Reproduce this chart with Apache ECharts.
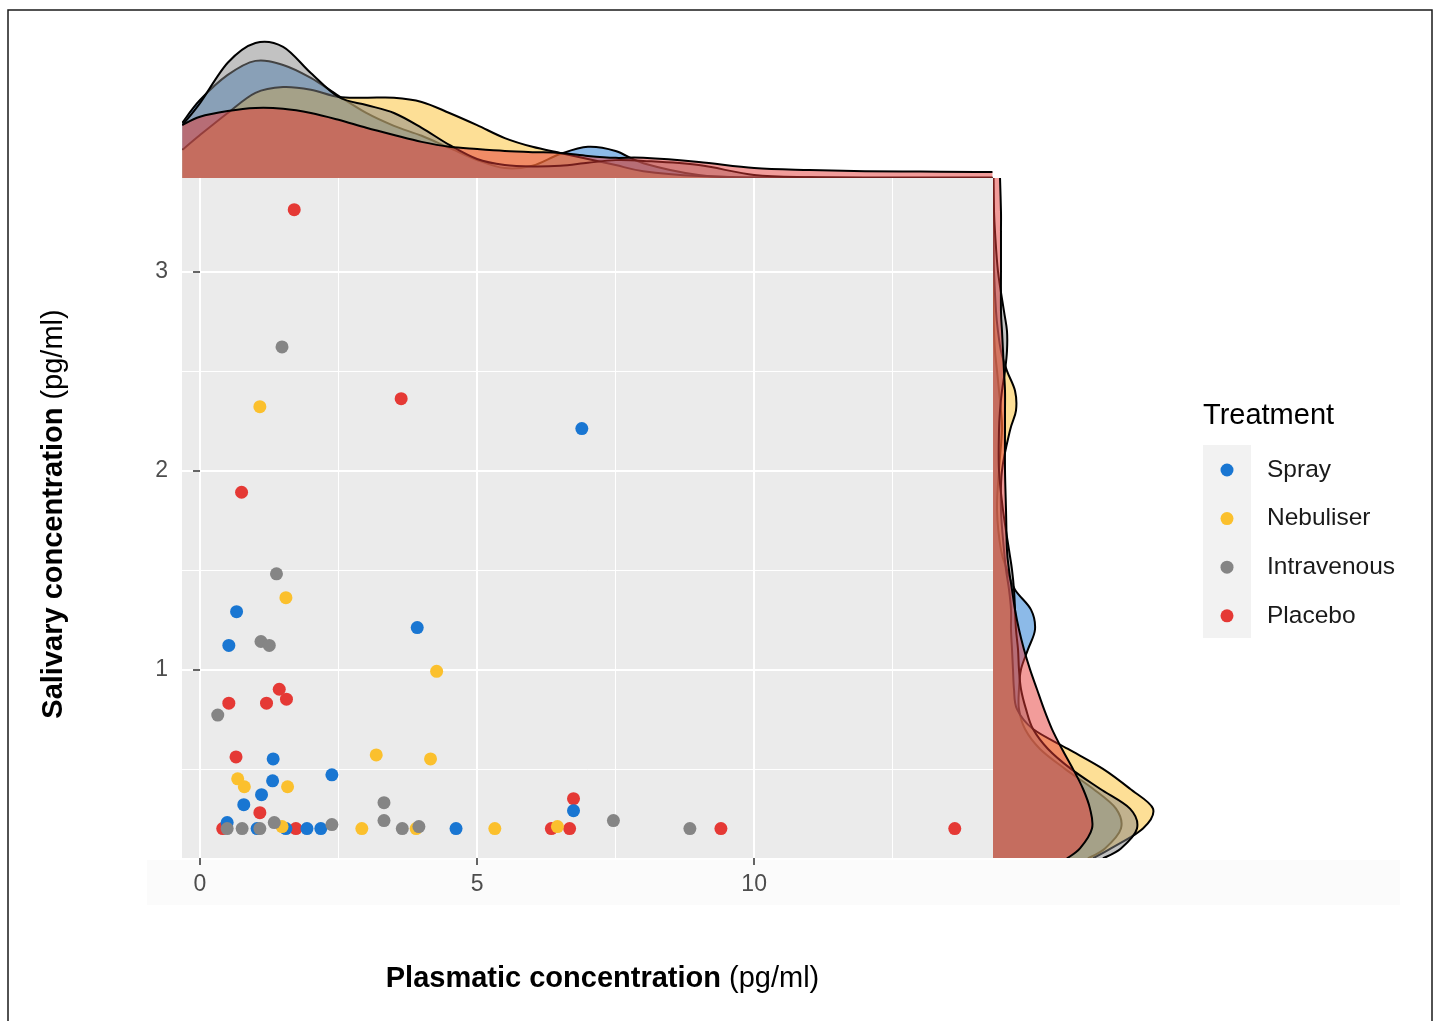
<!DOCTYPE html>
<html>
<head>
<meta charset="utf-8">
<script src="https://cdn.jsdelivr.net/npm/echarts@6/dist/echarts.min.js"></script>
<style>
html,body{margin:0;padding:0;background:#ffffff;}
#chart{width:1436px;height:1021px;}
</style>
</head>
<body>
<div id="chart"></div>
<script>
// ---------------- data ----------------
const groupNames = ['Spray', 'Nebuliser', 'Intravenous', 'Placebo'];

// scatter points [plasmatic, salivary]
const sprayPoints = [[6.89,2.21],[0.66,1.29],[3.92,1.21],[0.52,1.12],[1.32,0.55],[2.38,0.47],[1.31,0.44],[1.11,0.37],[0.79,0.32],[6.74,0.29],[0.49,0.23],[1.03,0.20],[1.55,0.20],[1.93,0.20],[2.18,0.20],[4.62,0.20]];
const nebuliserPoints = [[1.08,2.32],[1.55,1.36],[4.27,0.99],[3.18,0.57],[4.16,0.55],[0.68,0.45],[0.80,0.41],[1.58,0.41],[1.48,0.21],[2.92,0.20],[3.90,0.20],[5.32,0.20],[6.45,0.21]];
const intravenousPoints = [[1.48,2.62],[1.38,1.48],[1.10,1.14],[1.25,1.12],[0.32,0.77],[3.32,0.33],[3.32,0.24],[7.46,0.24],[1.34,0.23],[2.38,0.22],[0.49,0.20],[0.76,0.20],[1.08,0.20],[3.65,0.20],[3.95,0.21],[8.84,0.20]];
const placeboPoints = [[1.70,3.31],[3.63,2.36],[0.75,1.89],[1.43,0.90],[1.56,0.85],[0.52,0.83],[1.20,0.83],[0.65,0.56],[1.08,0.28],[6.74,0.35],[0.41,0.20],[1.73,0.20],[6.34,0.20],[6.67,0.20],[9.40,0.20],[13.62,0.20]];

// top marginal densities (plasmatic concentration)
const topGridX = [-0.32,0,0.5,1,1.5,2,2.5,3,3.5,4,4.5,5,5.5,6,6.5,7,7.5,8,9,10,11,12,13,14,14.3];
const topSpray       = [0.145,0.205,0.271,0.308,0.297,0.263,0.216,0.171,0.137,0.111,0.079,0.047,0.026,0.032,0.063,0.082,0.071,0.039,0.008,0.001,0.001,0,0,0,0];
const topNebuliser   = [0.074,0.113,0.171,0.224,0.239,0.232,0.213,0.211,0.211,0.200,0.171,0.139,0.105,0.082,0.066,0.050,0.034,0.018,0.005,0.001,0.001,0,0,0,0];
const topIntravenous = [0.139,0.197,0.303,0.355,0.345,0.276,0.213,0.192,0.171,0.132,0.087,0.050,0.034,0.030,0.032,0.040,0.047,0.045,0.034,0.008,0.002,0.001,0.001,0.001,0.001];
const topPlacebo     = [0.139,0.161,0.176,0.184,0.182,0.171,0.153,0.132,0.113,0.095,0.082,0.076,0.071,0.068,0.066,0.058,0.053,0.053,0.042,0.026,0.021,0.018,0.017,0.016,0.016];

// right marginal densities (salivary concentration)
const rightGridY = [0.05,0.1,0.2,0.3,0.4,0.5,0.6,0.7,0.8,0.9,1.0,1.1,1.2,1.3,1.4,1.5,1.6,1.8,2.0,2.2,2.3,2.4,2.5,2.6,2.7,2.8,3.0,3.2,3.3,3.47];
const rightSpray       = [1.583,1.867,2.133,2.050,1.667,1.200,0.783,0.533,0.433,0.433,0.467,0.583,0.700,0.633,0.367,0.233,0.133,0.067,0.100,0.150,0.133,0.100,0.067,0.033,0.017,0.008,0.003,0.002,0.002,0.002];
const rightNebuliser   = [1.667,1.967,2.500,2.667,2.283,1.833,1.250,0.667,0.400,0.350,0.333,0.317,0.300,0.300,0.267,0.217,0.183,0.133,0.150,0.283,0.383,0.367,0.233,0.133,0.083,0.050,0.017,0.008,0.005,0.003];
const rightIntravenous = [1.833,2.133,2.400,2.283,1.783,1.300,0.917,0.667,0.550,0.467,0.433,0.417,0.383,0.367,0.350,0.317,0.267,0.167,0.100,0.100,0.117,0.150,0.200,0.233,0.233,0.183,0.083,0.033,0.017,0.007];
const rightPlacebo     = [1.233,1.450,1.650,1.617,1.500,1.333,1.150,0.983,0.850,0.733,0.617,0.517,0.433,0.367,0.317,0.267,0.233,0.217,0.200,0.200,0.200,0.200,0.183,0.167,0.150,0.133,0.133,0.133,0.133,0.117];

// tick labels
const xMajorTicks = [0, 5, 10];
const xMinorTicks = [2.5, 7.5, 12.5];
const yMajorTicks = [1, 2, 3];
const yMinorTicks = [0.5, 1.5, 2.5];

// ---------------- style ----------------
const palette = { Spray: '#1976D2', Nebuliser: '#FBC02D', Intravenous: '#858585', Placebo: '#E53935' };
const FONT = '"Liberation Sans", Arial, Helvetica, sans-serif';
const X_MIN = -0.325, X_MAX = 14.31, Y_MIN = 0.052, Y_MAX = 3.469;

const scatterSets = { Spray: sprayPoints, Nebuliser: nebuliserPoints, Intravenous: intravenousPoints, Placebo: placeboPoints };
const topSets = { Spray: topSpray, Nebuliser: topNebuliser, Intravenous: topIntravenous, Placebo: topPlacebo };
const rightSets = { Spray: rightSpray, Nebuliser: rightNebuliser, Intravenous: rightIntravenous, Placebo: rightPlacebo };

function smoothPath(p) {
  let d = 'M' + p[0][0] + ',' + p[0][1];
  for (let i = 0; i < p.length - 1; i++) {
    const p0 = p[i - 1] || p[i], p1 = p[i], p2 = p[i + 1], p3 = p[i + 2] || p[i + 1];
    const c1x = p1[0] + (p2[0] - p0[0]) / 6, c1y = p1[1] + (p2[1] - p0[1]) / 6;
    const c2x = p2[0] - (p3[0] - p1[0]) / 6, c2y = p2[1] - (p3[1] - p1[1]) / 6;
    d += ' C' + c1x + ',' + c1y + ' ' + c2x + ',' + c2y + ' ' + p2[0] + ',' + p2[1];
  }
  return d;
}

function densityRenderer(orient, color) {
  return function (params, api) {
    if (params.dataIndexInside !== 0) return null;
    const n = params.dataInsideLength;
    const pts = [];
    for (let i = 0; i < n; i++) pts.push(api.coord([api.value(0, i), api.value(1, i)]));
    const curve = smoothPath(pts);
    let b0, b1;
    if (orient === 'top') {
      b0 = api.coord([api.value(0, 0), 0]);
      b1 = api.coord([api.value(0, n - 1), 0]);
    } else {
      b0 = api.coord([0, api.value(1, 0)]);
      b1 = api.coord([0, api.value(1, n - 1)]);
    }
    const fillPath = curve + ' L' + b1[0] + ',' + b1[1] + ' L' + b0[0] + ',' + b0[1] + ' Z';
    return {
      type: 'group',
      children: [
        { type: 'path', shape: { pathData: fillPath }, style: { fill: color, opacity: 0.5, stroke: null } },
        { type: 'path', shape: { pathData: curve }, style: { fill: null, stroke: '#000000', lineWidth: 2 } }
      ]
    };
  };
}

const series = [];
// scatter (drawing order chosen for overlaps)
['Placebo', 'Spray', 'Nebuliser', 'Intravenous'].forEach(function (g) {
  series.push({
    name: g, type: 'scatter', xAxisIndex: 0, yAxisIndex: 0,
    data: scatterSets[g], symbol: 'circle', symbolSize: 13,
    itemStyle: { color: palette[g], opacity: 1 },
    emphasis: { disabled: true }, z: 3
  });
});
// marginal densities
groupNames.forEach(function (g) {
  series.push({
    name: g, type: 'custom', xAxisIndex: 2, yAxisIndex: 2, clip: true,
    data: topGridX.map(function (x, i) { return [x, topSets[g][i]]; }),
    renderItem: densityRenderer('top', palette[g]), silent: true, z: 2
  });
});
groupNames.forEach(function (g) {
  series.push({
    name: g, type: 'custom', xAxisIndex: 3, yAxisIndex: 3, clip: true,
    data: rightGridY.map(function (y, i) { return [rightSets[g][i], y]; }),
    renderItem: densityRenderer('right', palette[g]), silent: true, z: 2
  });
});

const tickStyle = { show: true, length: 7, lineStyle: { color: '#333333', width: 1.5 } };
const labelStyle = { fontSize: 23, color: '#4D4D4D', fontFamily: FONT };

const option = {
  animation: false,
  backgroundColor: '#ffffff',
  textStyle: { fontFamily: FONT },
  grid: [
    { left: 182, top: 178, width: 811, height: 680, show: true, backgroundColor: '#EBEBEB', borderWidth: 0, outerBoundsMode: 'none', containLabel: false },
    { left: 182, top: 35, width: 811, height: 143, show: false, outerBoundsMode: 'none', containLabel: false },
    { left: 993, top: 178, width: 172, height: 680, show: false, outerBoundsMode: 'none', containLabel: false }
  ],
  xAxis: [
    {
      gridIndex: 0, type: 'value', min: X_MIN, max: X_MAX,
      axisLine: { show: false },
      axisTick: Object.assign({ customValues: xMajorTicks }, tickStyle),
      axisLabel: Object.assign({ customValues: xMajorTicks, margin: 15 }, labelStyle),
      splitLine: { show: true, lineStyle: { color: '#FFFFFF', width: 2 } },
      name: '{b|Plasmatic concentration} {n|(pg/ml)}',
      nameLocation: 'middle', nameGap: 106,
      nameTextStyle: {
        fontSize: 29, color: '#000000', fontFamily: FONT, padding: [0, 0, 0, 30],
        rich: {
          b: { fontSize: 29, fontWeight: 'bold', color: '#000000', fontFamily: FONT },
          n: { fontSize: 29, fontWeight: 'normal', color: '#000000', fontFamily: FONT }
        }
      }
    },
    {
      gridIndex: 0, type: 'value', min: X_MIN, max: X_MAX,
      axisLine: { show: false },
      axisTick: { show: false, customValues: xMinorTicks },
      axisLabel: { show: false, customValues: xMinorTicks },
      splitLine: { show: true, lineStyle: { color: '#FFFFFF', width: 1 } }
    },
    { gridIndex: 1, type: 'value', min: X_MIN, max: X_MAX, show: false },
    { gridIndex: 2, type: 'value', min: 0, max: 2.867, show: false }
  ],
  yAxis: [
    {
      gridIndex: 0, type: 'value', min: Y_MIN, max: Y_MAX,
      axisLine: { show: false },
      axisTick: Object.assign({ customValues: yMajorTicks }, tickStyle),
      axisLabel: Object.assign({ customValues: yMajorTicks, margin: 14 }, labelStyle),
      splitLine: { show: true, lineStyle: { color: '#FFFFFF', width: 2 } },
      name: '{b|Salivary concentration} {n|(pg/ml)}',
      nameLocation: 'middle', nameRotate: 90, nameGap: 114,
      nameTextStyle: {
        fontSize: 29, color: '#000000', fontFamily: FONT, padding: [0, 0, 0, 8],
        rich: {
          b: { fontSize: 29, fontWeight: 'bold', color: '#000000', fontFamily: FONT },
          n: { fontSize: 29, fontWeight: 'normal', color: '#000000', fontFamily: FONT }
        }
      }
    },
    {
      gridIndex: 0, type: 'value', min: Y_MIN, max: Y_MAX,
      axisLine: { show: false },
      axisTick: { show: false, customValues: yMinorTicks },
      axisLabel: { show: false, customValues: yMinorTicks },
      splitLine: { show: true, lineStyle: { color: '#FFFFFF', width: 1 } }
    },
    { gridIndex: 1, type: 'value', min: 0, max: 0.376, show: false },
    { gridIndex: 2, type: 'value', min: Y_MIN, max: Y_MAX, show: false }
  ],
  legend: {
    data: groupNames,
    orient: 'vertical',
    left: 1215.5, top: 452,
    itemWidth: 13, itemHeight: 13, itemGap: 22.6,
    icon: 'circle',
    formatter: function (name) { return '{s|}' + name; },
    textStyle: {
      fontSize: 24.5, color: '#1A1A1A', fontFamily: FONT, lineHeight: 26,
      rich: { s: { width: 28.5, fontSize: 24.5, lineHeight: 26 } }
    },
    selectedMode: false
  },
  graphic: [
    { type: 'rect', z: -10, shape: { x: 147, y: 860, width: 1253, height: 45 }, style: { fill: '#FBFBFB' }, silent: true },
    { type: 'rect', z: -5, shape: { x: 1203, y: 445, width: 48, height: 193 }, style: { fill: '#F2F2F2' }, silent: true },
    { type: 'text', z: 5, x: 1203, y: 401, style: { text: 'Treatment', font: '29px ' + FONT, fill: '#000000', textVerticalAlign: 'top' }, silent: true },
    { type: 'rect', z: 10, shape: { x: 8, y: 10, width: 1424, height: 1030 }, style: { fill: null, stroke: '#1A1A1A', lineWidth: 1.5 }, silent: true }
  ],
  series: series
};

const chart = echarts.init(document.getElementById('chart'), null, { renderer: 'canvas' });
chart.setOption(option);
</script>
</body>
</html>
